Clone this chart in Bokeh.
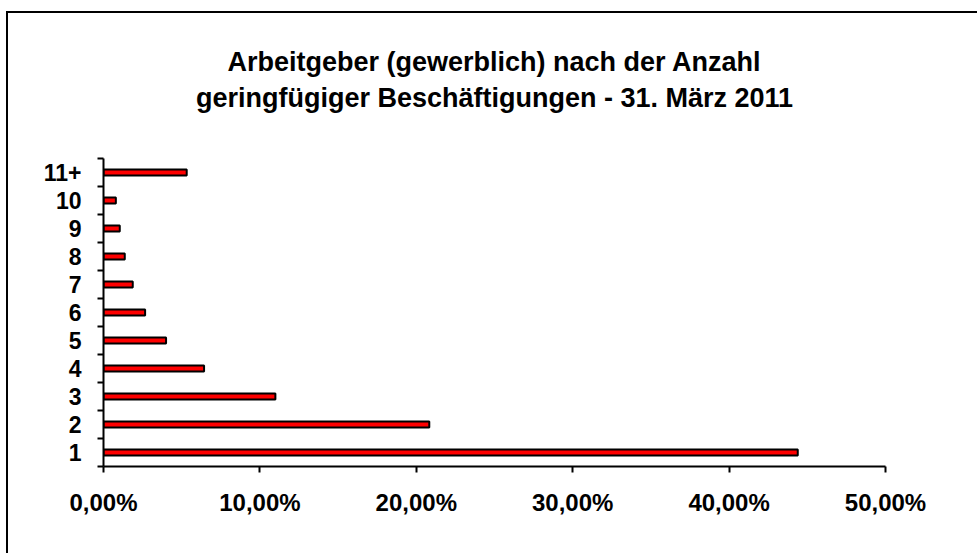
from bokeh.plotting import figure
from bokeh.models import Range1d, FixedTicker, Title
from bokeh.embed import file_html
from bokeh.resources import INLINE

# ---- data ----
categories = ["1", "2", "3", "4", "5", "6", "7", "8", "9", "10", "11+"]
shares = [44.39, 20.83, 10.99, 6.43, 4.00, 2.66, 1.87, 1.36, 1.04, 0.79, 5.32]
x_ticks = [0, 10, 20, 30, 40, 50]
x_tick_labels = ["0,00%", "10,00%", "20,00%", "30,00%", "40,00%", "50,00%"]
title_line1 = "Arbeitgeber (gewerblich) nach der Anzahl"
title_line2 = "geringfügiger Beschäftigungen - 31. März 2011"

FONT = "Liberation Sans"
ypos = list(range(1, len(categories) + 1))

p = figure(
    frame_width=782, frame_height=308,
    min_border_left=95, min_border_right=92,
    min_border_top=145, min_border_bottom=87,
    x_range=Range1d(0, 50), y_range=Range1d(0.5, len(categories) + 0.5),
    output_backend="svg", toolbar_location=None, title=None,
    background_fill_color="white", border_fill_color="white",
)
p.styles = {"border-left": "2px solid black", "border-top": "2px solid black",
            "margin-top": "11px", "margin-left": "6px"}
p.outline_line_color = None
p.grid.visible = False

p.hbar(y=ypos, right=shares, left=0, height=0.22,
       fill_color="#FF0000", line_color="black", line_width=2)

# spacing between plot frame and the title block
spacer = Title(text=" ", align="center", text_font=FONT, text_font_size="2px",
               standoff=37)
p.add_layout(spacer, "above")
# titles (two centred lines)
t2 = Title(text=title_line2, align="center", text_font=FONT, text_font_size="27px",
           text_font_style="bold", text_color="black", standoff=9)
p.add_layout(t2, "above")
t1 = Title(text=title_line1, align="center", text_font=FONT, text_font_size="27px",
           text_font_style="bold", text_color="black", standoff=0)
p.add_layout(t1, "above")

# x axis
xa = p.xaxis[0]
xa.ticker = FixedTicker(ticks=x_ticks)
xa.major_label_overrides = {t_: l for t_, l in zip(x_ticks, x_tick_labels)}
xa.axis_line_width = 2
xa.axis_line_color = "black"
xa.major_tick_line_width = 2
xa.major_tick_line_color = "black"
xa.major_tick_out = 6
xa.major_tick_in = 0
xa.minor_tick_out = 0
xa.minor_tick_in = 0
xa.major_label_text_font = FONT
xa.major_label_text_font_size = "24px"
xa.major_label_text_font_style = "bold"
xa.major_label_text_color = "black"
xa.major_label_standoff = 16

# y axis: labels at centres, tick marks at boundaries
ya = p.yaxis[0]
ya.ticker = FixedTicker(ticks=ypos,
                        minor_ticks=[y - 0.5 for y in ypos] + [ypos[-1] + 0.5])
ya.major_label_overrides = {y: c for y, c in zip(ypos, categories)}
ya.axis_line_width = 2
ya.axis_line_color = "black"
ya.major_tick_out = 0
ya.major_tick_in = 0
ya.minor_tick_out = 6
ya.minor_tick_in = 0
ya.minor_tick_line_width = 2
ya.minor_tick_line_color = "black"
ya.major_label_text_font = FONT
ya.major_label_text_font_size = "23px"
ya.major_label_text_font_style = "bold"
ya.major_label_text_color = "black"
ya.major_label_standoff = 16

open("out.html", "w").write(file_html(p, INLINE))
